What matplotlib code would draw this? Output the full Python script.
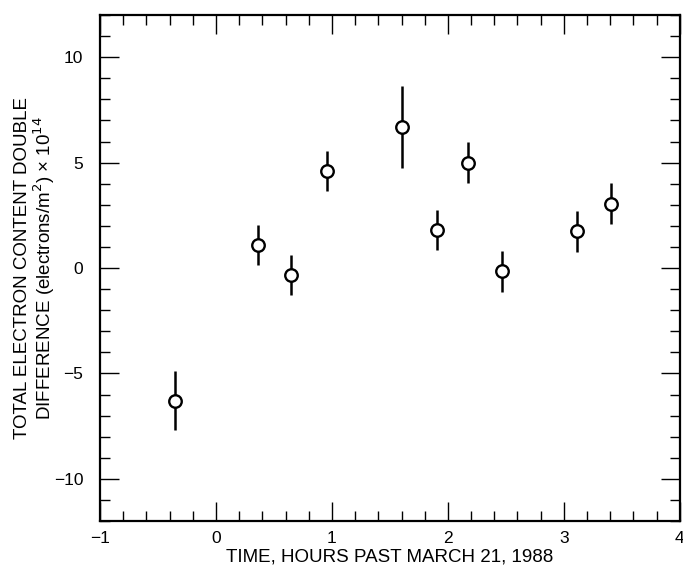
import matplotlib
matplotlib.use("Agg")
import matplotlib.pyplot as plt
from matplotlib.ticker import MultipleLocator

plt.rcParams["font.family"] = ["Liberation Sans", "DejaVu Sans"]

# hours past March 21, 1988
hours = [-0.35, 0.36, 0.65, 0.96, 1.60, 1.91, 2.17, 2.47, 3.11, 3.41]
tec_diff = [-6.3, 1.1, -0.35, 4.6, 6.7, 1.8, 5.0, -0.15, 1.75, 3.05]
tec_err = [1.4, 0.95, 0.95, 0.97, 1.95, 0.95, 0.97, 0.97, 0.97, 0.97]

fig = plt.figure(figsize=(6.83, 5.77), dpi=100)
ax = fig.add_axes([0.1464, 0.097, 0.849, 0.877])

ax.errorbar(hours, tec_diff, yerr=tec_err, fmt="o", color="black",
            mfc="white", mec="black", ms=9, mew=1.7, elinewidth=1.8,
            capsize=0, zorder=3)

ax.set_xlim(-1, 4)
ax.set_ylim(-12, 12)
ax.xaxis.set_major_locator(MultipleLocator(1))
ax.xaxis.set_minor_locator(MultipleLocator(0.2))
ax.yaxis.set_major_locator(MultipleLocator(5))
ax.yaxis.set_minor_locator(MultipleLocator(1))
ax.tick_params(which="both", direction="in", top=True, right=True,
               labelsize=12.5, width=1.0)
ax.tick_params(which="major", length=14)
ax.tick_params(axis="y", which="major", pad=12)
ax.tick_params(axis="x", which="major", pad=7)
ax.tick_params(which="minor", length=7)
ax.set_yticks([-10, -5, 0, 5, 10])
ax.set_yticklabels(["\u221210", "\u22125", "0", "5", "10"])
for s in ax.spines.values():
    s.set_linewidth(1.6)

ax.set_xlabel("TIME, HOURS PAST MARCH 21, 1988", fontsize=13.5, labelpad=2)
ax.set_ylabel("TOTAL ELECTRON CONTENT DOUBLE\n"
              "DIFFERENCE (electrons/m$^2$) \u00d7 10$^{14}$",
              fontsize=13.5, linespacing=1.0)
ax.yaxis.set_label_coords(-0.075, 0.5)

fig.savefig("out.png", dpi=100)
